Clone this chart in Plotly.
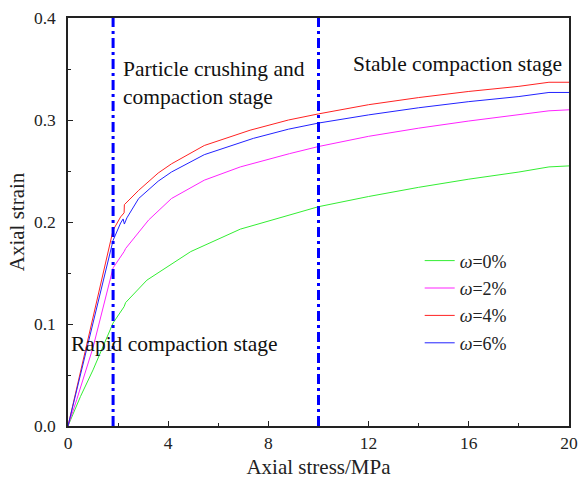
import plotly.graph_objects as go

# ---- data ----
x_w0 = [0, 0.5, 1.0, 1.8, 2.24, 2.3, 3.15, 3.6, 4.9, 6.88, 8.84, 10, 12, 14, 16, 18, 19.2, 20]
y_w0 = [0, 0.029, 0.055, 0.101, 0.117, 0.121, 0.143, 0.150, 0.171, 0.193, 0.207, 0.215, 0.225, 0.234, 0.242, 0.249, 0.254, 0.255]

x_w2 = [0, 0.35, 1.0, 1.8, 2.24, 2.3, 3.22, 4.13, 5.44, 6.88, 8.84, 10, 12, 14, 16, 18, 19.2, 20]
y_w2 = [0, 0.026, 0.077, 0.155, 0.171, 0.174, 0.202, 0.223, 0.241, 0.254, 0.267, 0.274, 0.284, 0.292, 0.299, 0.305, 0.309, 0.310]

x_w4 = [0, 1.0, 1.8, 2.1, 2.24, 2.25, 2.82, 3.6, 4.13, 5.44, 7.27, 8.8, 10, 12, 14, 16, 18, 19.2, 20]
y_w4 = [0, 0.106, 0.192, 0.205, 0.209, 0.217, 0.231, 0.248, 0.257, 0.275, 0.290, 0.300, 0.306, 0.315, 0.322, 0.328, 0.333, 0.337, 0.337]

x_w6 = [0, 1.0, 1.8, 2.1, 2.2, 2.25, 2.35, 2.82, 3.6, 4.13, 5.44, 7.4, 8.8, 10, 12, 14, 16, 18, 19.2, 20]
y_w6 = [0, 0.102, 0.182, 0.199, 0.203, 0.198, 0.204, 0.223, 0.240, 0.249, 0.266, 0.282, 0.291, 0.297, 0.305, 0.312, 0.318, 0.323, 0.327, 0.327]

series_names = ["<i>ω</i>=0%", "<i>ω</i>=2%", "<i>ω</i>=4%", "<i>ω</i>=6%"]
series_colors = ["#33ee33", "#ff22ff", "#ff2222", "#2222ff"]

stage_bounds = [1.8, 10]
x_ticks = [0, 4, 8, 12, 16, 20]
y_ticks = [0.0, 0.1, 0.2, 0.3, 0.4]
y_tick_text = ["0.0", "0.1", "0.2", "0.3", "0.4"]

FONT = "Liberation Serif"

fig = go.Figure()
for i, (xs, ys) in enumerate([(x_w0, y_w0), (x_w2, y_w2), (x_w4, y_w4), (x_w6, y_w6)]):
    fig.add_trace(go.Scatter(
        x=xs, y=ys, mode="lines", name=series_names[i],
        line=dict(color=series_colors[i], width=1),
        legendgroup=f"g{i}",
    ))

for xb in stage_bounds:
    fig.add_shape(type="line", xref="x", yref="paper", x0=xb, x1=xb, y0=0, y1=1,
                  line=dict(color="#0000ff", width=3, dash="10px,4px,3px,4px"))

fig.add_annotation(x=2.12, y=0.336, xref="x", yref="y", xanchor="left", yanchor="middle",
                   text="Particle crushing and<br>compaction stage", showarrow=False, align="left",
                   font=dict(family=FONT, size=21.5, color="#111"))
fig.add_annotation(x=11.3, y=0.355, xref="x", yref="y", xanchor="left", yanchor="middle",
                   text="Stable compaction stage", showarrow=False,
                   font=dict(family=FONT, size=21.5, color="#111"))
fig.add_annotation(x=0.05, y=0.080, xref="x", yref="y", xanchor="left", yanchor="middle",
                   text="Rapid compaction stage", showarrow=False,
                   font=dict(family=FONT, size=21.5, color="#111"))

axis_common = dict(showline=True, linecolor="#222", linewidth=1.5, mirror=True,
                   ticks="inside", ticklen=5, tickwidth=1.2, tickcolor="#222",
                   showgrid=False, zeroline=False,
                   tickfont=dict(family=FONT, size=17.5, color="#222"))

fig.update_xaxes(range=[0, 20], tickvals=x_ticks,
                 minor=dict(dtick=2, ticks="inside", ticklen=3, tickcolor="#222", showgrid=False),
                 title=dict(text="Axial stress/MPa", font=dict(family=FONT, size=21, color="#222"), standoff=8),
                 **axis_common)
fig.update_yaxes(range=[0, 0.4], tickvals=y_ticks, ticktext=y_tick_text, ticklabelstandoff=7,
                 minor=dict(dtick=0.05, ticks="inside", ticklen=3, tickcolor="#222", showgrid=False),
                 title=dict(text="Axial strain", font=dict(family=FONT, size=21, color="#222"), standoff=4),
                 **axis_common)

fig.update_layout(
    width=586, height=483,
    margin=dict(l=68, r=8, t=17, b=56),
    plot_bgcolor="white", paper_bgcolor="white",
    legend=dict(x=0.702, y=0.45, xanchor="left", yanchor="top", bgcolor="rgba(0,0,0,0)",
                font=dict(family=FONT, size=18, color="#222"), tracegroupgap=1),
    showlegend=True,
)

fig.write_html("out.html")
